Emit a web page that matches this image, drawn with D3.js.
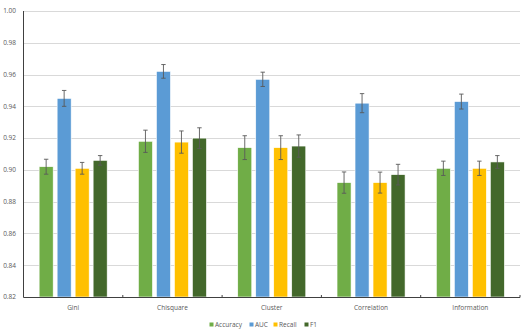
<!DOCTYPE html>
<html>
<head>
<meta charset="utf-8">
<script src="https://cdn.jsdelivr.net/npm/d3@7"></script>
<style>
  body { margin: 0; background: #fff; }
  text { font-family: "Open Sans", "Liberation Sans", sans-serif; fill: #595959; }
</style>
</head>
<body>
<div id="chart"></div>
<script>

// categories and series
var methods = ["Gini", "Chisquare", "Cluster", "Correlation", "Information"];
var metrics = ["Accuracy", "AUC", "Recall", "F1"];
var colors = ["#70AD47", "#5B9BD5", "#FFC000", "#43682B"];

// values per metric, one entry per method
var accuracy = [0.902, 0.918, 0.914, 0.892, 0.901];
var auc      = [0.945, 0.962, 0.957, 0.942, 0.943];
var recall   = [0.901, 0.9175, 0.914, 0.892, 0.901];
var f1       = [0.906, 0.920, 0.915, 0.897, 0.905];

// error bar half widths
var accuracyErr = [0.0047, 0.007, 0.0075, 0.0067, 0.0045];
var aucErr      = [0.005, 0.0043, 0.0045, 0.006, 0.0047];
var recallErr   = [0.0037, 0.007, 0.0075, 0.0066, 0.0045];
var f1Err       = [0.003, 0.0065, 0.007, 0.0065, 0.004];

var yTicks = [0.82, 0.84, 0.86, 0.88, 0.90, 0.92, 0.94, 0.96, 0.98, 1.00];

var series = [accuracy, auc, recall, f1];
var errs = [accuracyErr, aucErr, recallErr, f1Err];

var width = 523, height = 329;
var margin = {top: 11, right: 3, bottom: 32, left: 23.5};

var svg = d3.select("#chart").append("svg")
    .attr("width", width)
    .attr("height", height);

var x0 = d3.scaleBand()
    .domain(methods)
    .range([margin.left, width - margin.right])
    .paddingInner(0.275)
    .paddingOuter(0.1375);

var x1 = d3.scaleBand()
    .domain(metrics)
    .range([0, x0.bandwidth()])
    .paddingInner(0.22)
    .paddingOuter(0.11);

var y = d3.scaleLinear()
    .domain([0.82, 1.00])
    .range([height - margin.bottom, margin.top]);

// gridlines
svg.append("g")
    .selectAll("line")
    .data(yTicks.slice(1))
    .enter().append("line")
    .attr("x1", margin.left)
    .attr("x2", width - margin.right)
    .attr("y1", function(d){ return Math.round(y(d)) + 0.5; })
    .attr("y2", function(d){ return Math.round(y(d)) + 0.5; })
    .attr("stroke", "#d9d9d9")
    .attr("stroke-width", 1);

// y labels
svg.append("g")
    .selectAll("text")
    .data(yTicks)
    .enter().append("text")
    .attr("x", 16)
    .attr("y", function(d){ return y(d) + 2.3; })
    .attr("text-anchor", "end")
    .style("font-size", "6.5px")
    .text(function(d){ return d3.format(".2f")(d); });

// bars
var rows = [];
methods.forEach(function(m, i){
    metrics.forEach(function(k, j){
        rows.push({method: m, metric: k, value: series[j][i], err: errs[j][i], color: colors[j]});
    });
});

svg.append("g")
    .selectAll("rect")
    .data(rows)
    .enter().append("rect")
    .attr("x", function(d){ return x0(d.method) + x1(d.metric); })
    .attr("y", function(d){ return y(d.value); })
    .attr("width", x1.bandwidth())
    .attr("height", function(d){ return y(0.82) - y(d.value); })
    .attr("fill", function(d){ return d.color; })
    .attr("stroke", "#ffffff")
    .attr("stroke-width", 0.6);

// error bars
var eb = svg.append("g")
    .attr("stroke", "#595959")
    .attr("stroke-width", 0.9);

rows.forEach(function(d){
    var cx = x0(d.method) + x1(d.metric) + x1.bandwidth() / 2;
    var top = y(d.value + d.err), bot = y(d.value - d.err);
    eb.append("line").attr("x1", cx).attr("x2", cx).attr("y1", top).attr("y2", bot);
    eb.append("line").attr("x1", cx - 2.2).attr("x2", cx + 2.2).attr("y1", top).attr("y2", top);
    eb.append("line").attr("x1", cx - 2.2).attr("x2", cx + 2.2).attr("y1", bot).attr("y2", bot);
});

// axes lines
var base = Math.round(y(0.82)) + 0.5;
svg.append("line")
    .attr("x1", margin.left).attr("x2", margin.left)
    .attr("y1", margin.top).attr("y2", base)
    .attr("stroke", "#404040").attr("stroke-width", 1);

svg.append("line")
    .attr("x1", margin.left).attr("x2", width - margin.right)
    .attr("y1", base).attr("y2", base)
    .attr("stroke", "#404040").attr("stroke-width", 1);

// category boundary ticks
var step = x0.step();
svg.append("g")
    .selectAll("line")
    .data(methods)
    .enter().append("line")
    .attr("x1", function(d){ return x0(d) - step * 0.1375 + step; })
    .attr("x2", function(d){ return x0(d) - step * 0.1375 + step; })
    .attr("y1", base)
    .attr("y2", base - 2.5)
    .attr("stroke", "#404040");

// category labels
svg.append("g")
    .selectAll("text")
    .data(methods)
    .enter().append("text")
    .attr("x", function(d){ return x0(d) + x0.bandwidth() / 2; })
    .attr("y", 310)
    .attr("text-anchor", "middle")
    .style("font-size", "6.5px")
    .text(function(d){ return d; });

// legend
var legendX = [211.5, 251.5, 275.5, 306.5];
var legend = svg.append("g");
metrics.forEach(function(k, j){
    legend.append("rect")
        .attr("x", legendX[j] - 2)
        .attr("y", 322.5)
        .attr("width", 4)
        .attr("height", 4)
        .attr("fill", colors[j]);
    legend.append("text")
        .attr("x", legendX[j] + 3.5)
        .attr("y", 326.8)
        .style("font-size", "6.5px")
        .text(k);
});

</script>
</body>
</html>
